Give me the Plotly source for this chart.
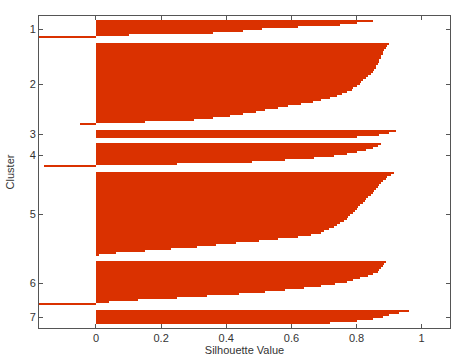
import plotly.graph_objects as go

# Silhouette values per cluster (sorted)
cluster_labels = ["1", "2", "3", "4", "5", "6", "7"]
c1 = [0.85, 0.80, 0.75, 0.62, 0.51, 0.45, 0.36, 0.10, -0.20]
c2 = [0.90, 0.895, 0.89, 0.885, 0.88, 0.88, 0.875, 0.875, 0.87, 0.87,
      0.865, 0.86, 0.86, 0.855, 0.85, 0.845, 0.835, 0.83, 0.82, 0.815,
      0.81, 0.80, 0.79, 0.785, 0.77, 0.755, 0.74, 0.72, 0.69, 0.665,
      0.63, 0.59, 0.56, 0.52, 0.49, 0.45, 0.41, 0.36, 0.30, 0.15, -0.05]
c3 = [0.92, 0.90, 0.87, 0.80]
c4 = [0.875, 0.865, 0.85, 0.83, 0.80, 0.77, 0.73, 0.67, 0.58, 0.48, 0.25, -0.16]
c5 = [0.915, 0.905, 0.895, 0.89, 0.88, 0.875, 0.87, 0.865, 0.86, 0.855,
      0.85, 0.845, 0.835, 0.83, 0.825, 0.82, 0.81, 0.805, 0.80, 0.795,
      0.79, 0.78, 0.775, 0.77, 0.76, 0.75, 0.74, 0.73, 0.715, 0.70,
      0.69, 0.66, 0.62, 0.56, 0.50, 0.43, 0.37, 0.31, 0.23, 0.15, 0.06, 0.01]
c6 = [0.89, 0.885, 0.88, 0.875, 0.87, 0.865, 0.85, 0.835, 0.81, 0.79,
      0.77, 0.735, 0.69, 0.64, 0.58, 0.52, 0.44, 0.34, 0.25, 0.13, 0.04, -0.20]
c7 = [0.96, 0.93, 0.90, 0.88, 0.85, 0.80, 0.72]
clusters = [c1, c2, c3, c4, c5, c6, c7]

x_tickvals = [0, 0.2, 0.4, 0.6, 0.8, 1]
x_ticktext = ["0", "0.2", "0.4", "0.6", "0.8", "1"]

RED = "#da3100"
AXIS = "#555555"
TXT = "#333333"
GAP = 2.5
PAD = 2.0

fig = go.Figure()
ypos = PAD
y_tickvals = []
for vals in clusters:
    ys = [ypos + i + 0.5 for i in range(len(vals))]
    fig.add_trace(go.Bar(x=vals, y=ys, orientation="h", width=1.02,
                         marker=dict(color=RED, line=dict(width=0)),
                         showlegend=False, hoverinfo="x"))
    y_tickvals.append(ypos + len(vals) / 2)
    ypos += len(vals) + GAP
ymax = ypos - GAP + PAD

fig.update_layout(
    width=451, height=356,
    margin=dict(l=39, r=1, t=16, b=28),
    paper_bgcolor="white", plot_bgcolor="white",
    bargap=0,
    font=dict(family="Liberation Sans, Arial, sans-serif", size=11, color=TXT),
    xaxis=dict(range=[-0.175, 1.087], tickvals=x_tickvals, ticktext=x_ticktext,
               ticks="inside", ticklen=4, tickcolor=AXIS, mirror="allticks",
               showline=True, linecolor=AXIS, linewidth=1,
               showgrid=False, zeroline=False,
               title=dict(text="Silhouette Value", standoff=3,
                          font=dict(size=11, color=TXT))),
    yaxis=dict(range=[ymax, 0], tickvals=y_tickvals, ticktext=cluster_labels,
               ticks="inside", ticklen=4, tickcolor=AXIS, mirror="allticks",
               showline=True, linecolor=AXIS, linewidth=1,
               showgrid=False, zeroline=False,
               title=dict(text="Cluster", standoff=12,
                          font=dict(size=11, color=TXT))),
)

fig.write_html("out.html")
